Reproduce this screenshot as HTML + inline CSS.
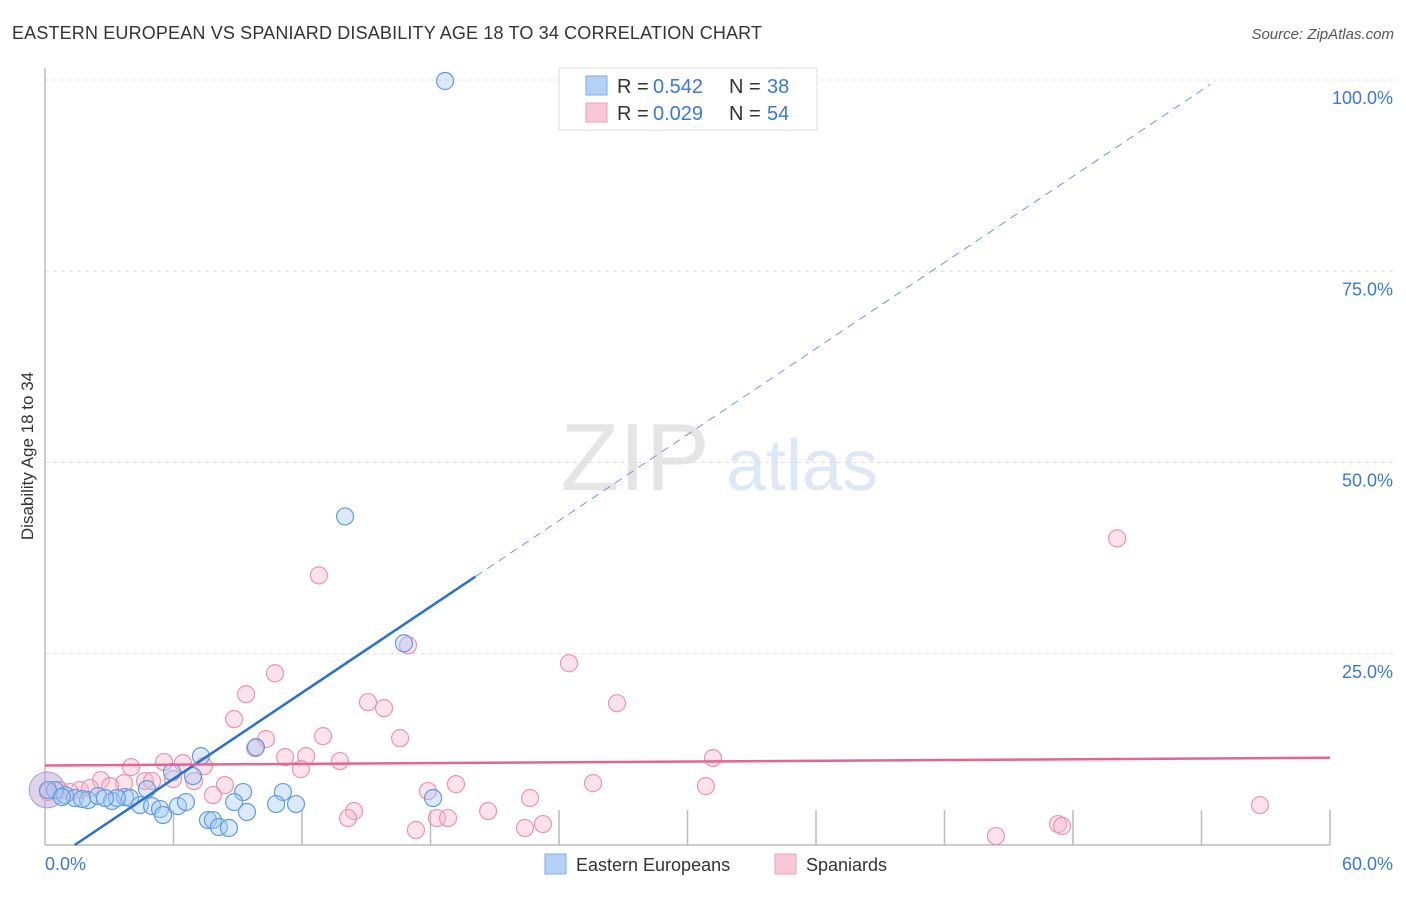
<!DOCTYPE html>
<html><head><meta charset="utf-8"><style>
body{margin:0;background:#fff;font-family:"Liberation Sans",sans-serif;}
svg text{font-family:"Liberation Sans",sans-serif;}
</style></head><body>
<svg id="chart" width="1406" height="892" xmlns="http://www.w3.org/2000/svg">
<text x="12" y="39" font-size="18" fill="#333" textLength="750">EASTERN EUROPEAN VS SPANIARD DISABILITY AGE 18 TO 34 CORRELATION CHART</text>
<text x="1394" y="39" font-size="15" fill="#555" text-anchor="end" font-style="italic">Source: ZipAtlas.com</text>
<text transform="translate(33,456) rotate(-90)" font-size="17" fill="#333" text-anchor="middle">Disability Age 18 to 34</text>
<g opacity="0.25">
<text x="635" y="490" font-size="96" fill="#999" text-anchor="middle" font-family="Liberation Serif">ZIP</text>
<text x="802" y="490" font-size="72" fill="#7aa7e0" text-anchor="middle">atlas</text>
</g>
<g id="grid"></g><g id="marks"></g>
<g>
<rect x="559" y="68" width="258" height="62" fill="#fff" stroke="#ddd"/>
<rect x="586" y="76" width="21" height="19" fill="#b5d0f5" stroke="#7eaee8"/>
<rect x="586" y="103" width="21" height="19" fill="#f9c8d6" stroke="#eea0b8"/>
<text x="617" y="93" font-size="20" fill="#333">R =</text>
<text x="653" y="93" font-size="20" fill="#3a78d4">0.542</text>
<text x="729" y="93" font-size="20" fill="#333">N =</text>
<text x="767" y="93" font-size="20" fill="#3a78d4">38</text>
<text x="617" y="120" font-size="20" fill="#333">R =</text>
<text x="653" y="120" font-size="20" fill="#3a78d4">0.029</text>
<text x="729" y="120" font-size="20" fill="#333">N =</text>
<text x="767" y="120" font-size="20" fill="#3a78d4">54</text>
</g>
<g>
<rect x="545" y="854" width="21" height="20" fill="#b5d0f5" stroke="#7eaee8"/>
<text x="576" y="871" font-size="18" fill="#333">Eastern Europeans</text>
<rect x="775" y="854" width="21" height="20" fill="#f9c8d6" stroke="#eea0b8"/>
<text x="806" y="871" font-size="18" fill="#333">Spaniards</text>
</g>
</svg>
<script>
const xTicks=[0,60];
const yTicks=[25,50,75,100];
const blueX=[18.68,14.01,16.76,7.28,9.85,5.93,6.91,4.76,9.25,11.11,18.12,0.93,1.40,2.01,2.47,3.13,3.74,3.97,4.44,5.00,5.37,5.51,6.21,6.58,7.61,7.84,8.12,8.59,8.83,9.43,10.79,11.72,3.36,0.47,0.14,0.79,1.73,2.80];
const blueY=[99.87,42.95,26.37,11.62,12.79,9.53,9.01,7.31,6.92,6.92,6.14,6.53,6.14,5.87,6.40,5.74,6.27,6.14,5.22,5.09,4.70,3.92,5.09,5.61,3.26,3.26,2.35,2.22,5.61,4.31,5.35,5.35,6.14,7.18,7.18,6.27,6.01,6.14];
const pinkX=[50.06,12.79,16.95,24.47,10.74,26.71,9.39,15.08,15.83,8.83,12.98,10.32,16.58,31.19,12.19,11.21,13.77,11.95,5.56,4.02,6.44,7.42,5.98,6.96,8.40,9.81,19.19,25.59,30.86,7.84,2.61,3.69,4.67,5.00,17.88,22.65,14.43,14.15,18.30,18.82,20.69,23.25,22.41,17.32,44.40,47.30,47.49,56.73,1.63,2.10,3.04,0.70,1.17,0.14];
const pinkY=[40.08,35.25,26.11,23.76,22.45,18.54,19.71,18.67,17.89,16.45,14.23,13.84,13.97,11.36,11.62,11.49,10.97,9.92,10.84,10.18,10.70,10.31,8.62,8.36,7.83,12.66,7.96,8.09,7.70,6.53,8.49,8.09,8.36,8.36,7.05,6.14,4.44,3.52,3.52,3.52,4.44,2.74,2.22,1.96,1.17,2.74,2.48,5.22,7.18,7.44,7.70,7.18,6.92,6.92];
const blueLine=[-2.6,1.875];
const pinkLine=[10.4,0.0167];
const X0=45,X1=1330,Y0=845,Y100=80;
const sx=v=>X0+(v/60)*(X1-X0);
const sy=v=>Y0-(v/100)*(Y0-Y100);
const NS="http://www.w3.org/2000/svg";
const grid=document.getElementById('grid'),marks=document.getElementById('marks');
function mk(tag,attrs,parent){const e=document.createElementNS(NS,tag);for(const k in attrs)e.setAttribute(k,attrs[k]);parent.appendChild(e);return e;}
yTicks.forEach(t=>{
 const l=mk('line',{x1:X0,x2:1395,y1:sy(t),y2:sy(t),stroke:'#ddd','stroke-dasharray':'4,4'},grid);
 
 
 const tx=mk('text',{x:1393,y:sy(t)+24,'font-size':18,fill:'#3a78d4','text-anchor':'end'},grid);
 tx.textContent=t.toFixed(1)+'%';
 
 
});
for(let i=0;i<=10;i++){
 const x=sx(i*6);
 const l=mk('line',{x1:x,x2:x,y1:i==0?68:810,y2:Y0,stroke:'#bbb','stroke-width':1.5},grid);
 
 
}
const bx=mk('line',{x1:X0,x2:X1,y1:Y0,y2:Y0,stroke:'#bbb','stroke-width':1.5},grid);


xTicks.forEach((t,i)=>{
 const tx=mk('text',{x:i==0?sx(t):sx(t)+63,y:870,'font-size':18,fill:'#3a78d4','text-anchor':i==0?'start':'end'},grid);
 tx.textContent=t.toFixed(1)+'%';
 
 
});
const big=mk('circle',{cx:sx(0.1),cy:sy(7.2),r:18,fill:'rgba(180,160,210,0.45)',stroke:'#b09ad0'},marks);


pinkX.forEach((x,i)=>{
 const c=mk('circle',{cx:sx(x),cy:sy(pinkY[i]),r:8.5,fill:'rgba(248,185,205,0.4)',stroke:'#eb94b0','stroke-width':1.2},marks);
 
 
});
blueX.forEach((x,i)=>{
 const c=mk('circle',{cx:sx(x),cy:sy(blueY[i]),r:8.5,fill:'rgba(165,200,242,0.4)',stroke:'#5f9de2','stroke-width':1.2},marks);
 
 
});
const bxs=(0-blueLine[0])/blueLine[1],bxe=20.1,bxd=54.4;
const t1=mk('line',{x1:sx(bxs),y1:sy(0),x2:sx(bxe),y2:sy(blueLine[0]+blueLine[1]*bxe),stroke:'#2a6fd6','stroke-width':2.5},marks);


const t2=mk('line',{x1:sx(bxe),y1:sy(blueLine[0]+blueLine[1]*bxe),x2:sx(bxd),y2:sy(blueLine[0]+blueLine[1]*bxd),stroke:'#5f9de2','stroke-width':1,'stroke-dasharray':'8,6'},marks);


const t3=mk('line',{x1:sx(0),y1:sy(pinkLine[0]),x2:sx(60),y2:sy(pinkLine[0]+pinkLine[1]*60),stroke:'#e6648e','stroke-width':2.5},marks);


</script>
</body></html>
